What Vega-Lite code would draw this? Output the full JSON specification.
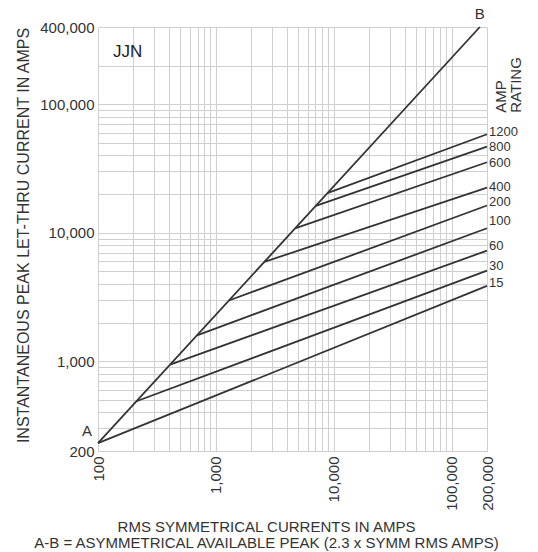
{
  "$schema": "https://vega.github.io/schema/vega-lite/v6.json",
  "width": 389,
  "height": 424,
  "autosize": {"type": "none"},
  "padding": {"left": 98, "top": 27, "right": 51, "bottom": 101},
  "background": "white",
  "config": {"view": {"stroke": null}, "font": "Liberation Sans"},
  "datasets": {
    "curves": [
      {"series": "AB", "current": 100, "peak": 230},
      {"series": "AB", "current": 173900, "peak": 400000},
      {"series": "1200", "current": 8840, "peak": 20330},
      {"series": "1200", "current": 200000, "peak": 58500},
      {"series": "800", "current": 7050, "peak": 16215},
      {"series": "800", "current": 200000, "peak": 46900},
      {"series": "600", "current": 4700, "peak": 10810},
      {"series": "600", "current": 200000, "peak": 35400},
      {"series": "400", "current": 2580, "peak": 5930},
      {"series": "400", "current": 200000, "peak": 22500},
      {"series": "200", "current": 1290, "peak": 2970},
      {"series": "200", "current": 200000, "peak": 16300},
      {"series": "100", "current": 692, "peak": 1592},
      {"series": "100", "current": 200000, "peak": 10850},
      {"series": "60", "current": 409, "peak": 941},
      {"series": "60", "current": 200000, "peak": 7260},
      {"series": "30", "current": 212, "peak": 488},
      {"series": "30", "current": 200000, "peak": 5070},
      {"series": "15", "current": 100, "peak": 230},
      {"series": "15", "current": 200000, "peak": 3860}
    ],
    "ratings": [
      {"rating": "1200", "current": 200000, "peak": 60500},
      {"rating": "800", "current": 200000, "peak": 46200},
      {"rating": "600", "current": 200000, "peak": 35000},
      {"rating": "400", "current": 200000, "peak": 22900},
      {"rating": "200", "current": 200000, "peak": 17300},
      {"rating": "100", "current": 200000, "peak": 12370},
      {"rating": "60", "current": 200000, "peak": 7900},
      {"rating": "30", "current": 200000, "peak": 5520},
      {"rating": "15", "current": 200000, "peak": 4070}
    ]
  },
  "encoding": {
    "x": {
      "field": "current",
      "type": "quantitative",
      "scale": {"type": "log", "domain": [100, 200000], "nice": false},
      "axis": {
        "values": [100, 200, 300, 400, 500, 600, 700, 800, 900, 1000, 2000, 3000, 4000, 5000, 6000, 7000, 8000, 9000, 10000, 20000, 30000, 40000, 50000, 60000, 70000, 80000, 90000, 100000, 200000],
        "labelExpr": "indexof([100,1000,10000,100000,200000], datum.value) >= 0 ? format(datum.value, ',') : ''",
        "labelAngle": -90,
        "labelPadding": 5,
        "labelOverlap": false,
        "labelFlush": false,
        "labelBound": false,
        "labelFontSize": 15,
        "labelColor": "#333333",
        "ticks": false,
        "domain": false,
        "grid": true,
        "gridColor": "#cfcfcf",
        "gridWidth": 1,
        "gridOpacity": 1,
        "title": ["RMS SYMMETRICAL CURRENTS IN AMPS", "A-B = ASYMMETRICAL AVAILABLE PEAK (2.3 x SYMM RMS AMPS)"],
        "titleX": 168,
        "titleY": 68,
        "titleAlign": "center",
        "titleBaseline": "top",
        "titleAngle": 0,
        "titleFontSize": 15,
        "titleFontWeight": "normal",
        "titleColor": "#333333",
        "titleLineHeight": 16
      }
    },
    "y": {
      "field": "peak",
      "type": "quantitative",
      "scale": {"type": "log", "domain": [200, 400000], "nice": false},
      "axis": {
        "values": [200, 300, 400, 500, 600, 700, 800, 900, 1000, 2000, 3000, 4000, 5000, 6000, 7000, 8000, 9000, 10000, 20000, 30000, 40000, 50000, 60000, 70000, 80000, 90000, 100000, 200000, 400000],
        "labelExpr": "indexof([200,1000,10000,100000,400000], datum.value) >= 0 ? format(datum.value, ',') : ''",
        "labelPadding": 4,
        "labelOverlap": false,
        "labelFlush": false,
        "labelBound": false,
        "labelFontSize": 15,
        "labelColor": "#333333",
        "ticks": false,
        "domain": false,
        "grid": true,
        "gridColor": "#cfcfcf",
        "gridWidth": 1,
        "gridOpacity": 1,
        "title": "INSTANTANEOUS PEAK LET-THRU CURRENT IN AMPS",
        "titleX": -75,
        "titleY": 208,
        "titleAngle": 270,
        "titleAlign": "center",
        "titleBaseline": "middle",
        "titleFontSize": 16,
        "titleFontWeight": "normal",
        "titleColor": "#333333"
      }
    }
  },
  "layer": [
    {
      "data": {"name": "curves"},
      "mark": {"type": "line", "color": "#333333", "strokeWidth": 1.8, "clip": false},
      "encoding": {
        "detail": {"field": "series", "type": "nominal"},
        "order": {"field": "current", "type": "quantitative"}
      }
    },
    {
      "data": {"name": "ratings"},
      "mark": {"type": "text", "align": "left", "baseline": "middle", "dx": 2, "fontSize": 13, "color": "#333333"},
      "encoding": {"text": {"field": "rating", "type": "nominal"}}
    },
    {
      "data": {"values": [{"current": 200000, "peak": 86000}]},
      "mark": {"type": "text", "text": ["AMP", "RATING"], "angle": 270, "align": "left", "baseline": "top", "dy": 7, "fontSize": 15, "lineHeight": 15, "color": "#333333"}
    },
    {
      "data": {"values": [{"current": 173900, "peak": 400000, "note": "B"}]},
      "mark": {"type": "text", "align": "center", "baseline": "alphabetic", "dy": -8, "fontSize": 15, "color": "#333333"},
      "encoding": {"text": {"field": "note", "type": "nominal"}}
    },
    {
      "data": {"values": [{"current": 100, "peak": 230, "note": "A"}]},
      "mark": {"type": "text", "align": "center", "baseline": "alphabetic", "dx": -11, "dy": -7, "fontSize": 15, "color": "#333333"},
      "encoding": {"text": {"field": "note", "type": "nominal"}}
    },
    {
      "data": {"values": [{"current": 134, "peak": 233000, "note": "JJN"}]},
      "mark": {"type": "text", "align": "left", "baseline": "alphabetic", "fontSize": 17, "color": "#222222"},
      "encoding": {"text": {"field": "note", "type": "nominal"}}
    }
  ]
}
